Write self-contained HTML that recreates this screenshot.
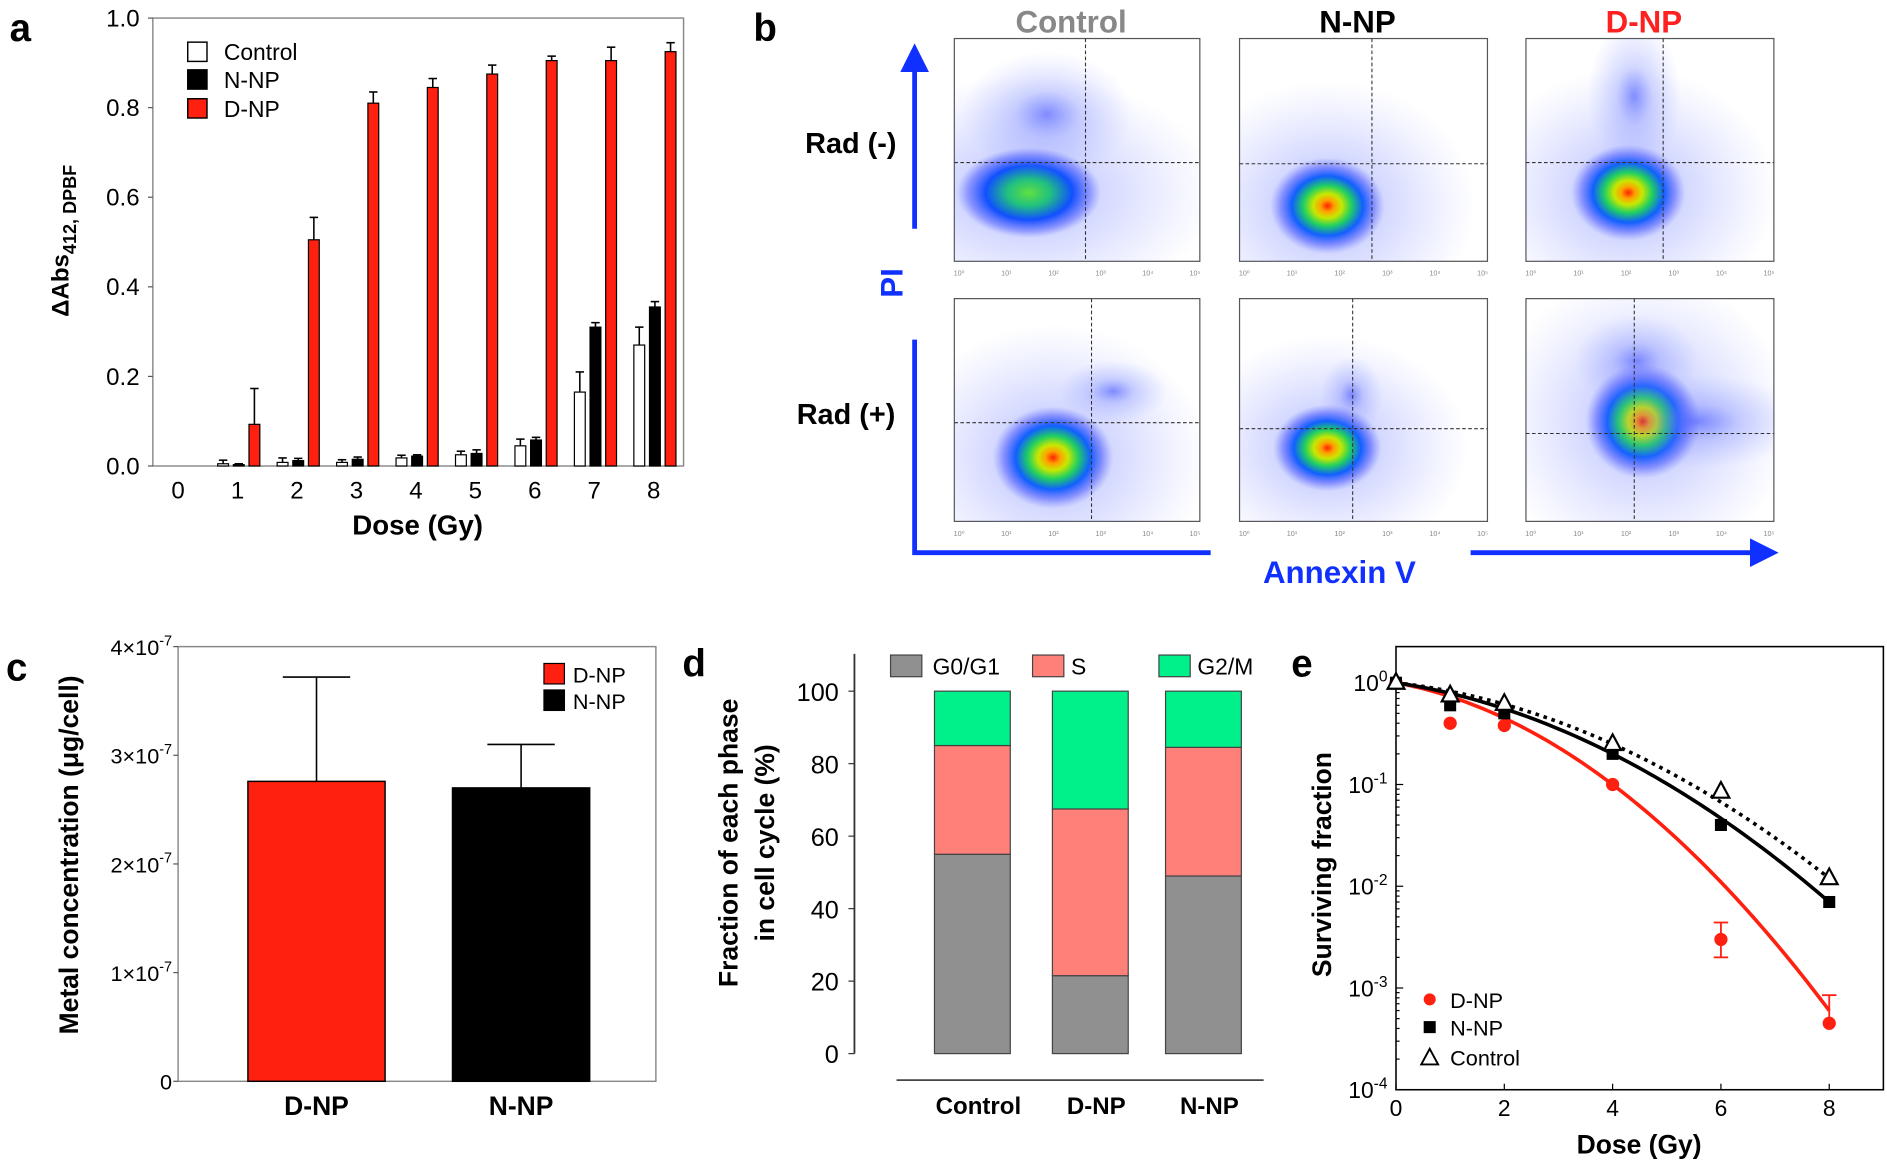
<!DOCTYPE html>
<html><head><meta charset="utf-8"><style>
html,body{margin:0;padding:0;background:#fff}
svg{display:block;font-family:"Liberation Sans",sans-serif}
</style></head><body>
<svg id="fig" width="1887" height="1168" viewBox="0 0 1568 970" preserveAspectRatio="none" xmlns="http://www.w3.org/2000/svg">
<defs>
<radialGradient id="blob" cx="0.5" cy="0.5" r="0.5">
<stop offset="0" stop-color="#ff2000"/><stop offset="0.12" stop-color="#ffa000"/><stop offset="0.25" stop-color="#c8e800"/>
<stop offset="0.42" stop-color="#20d060"/><stop offset="0.62" stop-color="#1060ff"/><stop offset="0.82" stop-color="#4050ff" stop-opacity="0.5"/><stop offset="1" stop-color="#6070ff" stop-opacity="0"/>
</radialGradient>
<radialGradient id="blobg" cx="0.5" cy="0.5" r="0.5">
<stop offset="0" stop-color="#60e040"/><stop offset="0.3" stop-color="#20c080"/>
<stop offset="0.6" stop-color="#1050ff"/><stop offset="0.85" stop-color="#4050ff" stop-opacity="0.45"/><stop offset="1" stop-color="#6070ff" stop-opacity="0"/>
</radialGradient>
<radialGradient id="haze" cx="0.5" cy="0.5" r="0.5">
<stop offset="0" stop-color="#5060ff" stop-opacity="0.45"/><stop offset="1" stop-color="#8090ff" stop-opacity="0"/>
</radialGradient>
<marker id="ah" markerWidth="6" markerHeight="6" refX="3" refY="3" orient="auto"><path d="M0,0 L6,3 L0,6 z" fill="#1030ff"/></marker>
</defs>
<g id="pa"></g>
<g id="pb"></g>
<g id="pc"></g>
<g id="pd"></g>
<g id="pe"></g>
</svg>
<script>
// ---------- Panel a data ----------
const aDoses = [0,1,2,3,4,5,6,7,8];
const aControl = [0,0.005,0.008,0.008,0.018,0.025,0.045,0.165,0.27];
const aControlErr = [0,0.008,0.01,0.006,0.006,0.008,0.015,0.045,0.04];
const aNNP = [0,0.003,0.012,0.015,0.022,0.028,0.058,0.31,0.355];
const aNNPErr = [0,0.002,0.005,0.005,0.003,0.008,0.006,0.01,0.012];
const aDNP = [0,0.093,0.505,0.81,0.845,0.875,0.905,0.905,0.925];
const aDNPErr = [0,0.08,0.05,0.025,0.02,0.02,0.01,0.03,0.02];
const aYTicks = ["0.0","0.2","0.4","0.6","0.8","1.0"];
// ---------- Panel c data ----------
const cCats = ["D-NP","N-NP"];
const cVals = [2.76,2.70];   // x1e-7
const cErr = [0.96,0.40];
const cYTicks = [0,1,2,3,4];
// ---------- Panel d data ----------
const dCats = ["Control","D-NP","N-NP"];
const dG0G1 = [55,21.5,49];
const dS = [30,46,35.5];
const dG2M = [15,32.5,15.5];
const dYTicks = [0,20,40,60,80,100];
// ---------- Panel e data ----------
const eDose = [0,1,2,4,6,8];
const eDNP = [1,0.4,0.38,0.1,0.003,0.00045];
const eDNPErrLo = [0,0,0,0,0.002,0];
const eDNPErrHi = [0,0,0,0,0.0044,0.00085];
const eNNP = [1,0.6,0.5,0.2,0.04,0.007];
const eControl = [1,0.75,0.62,0.25,0.085,0.012];
const eFitAlpha = [0.225,0.185,0.141]; // D-NP, N-NP, Control
const eFitBeta = [0.0878,0.0544,0.0515];
const eXTicks = [0,2,4,6,8];
const eYTicks = [0,-1,-2,-3,-4];

const NS="http://www.w3.org/2000/svg";
function mk(parent,tag,attrs,text){const e=document.createElementNS(NS,tag);for(const k in attrs)e.setAttribute(k,attrs[k]);if(text!==undefined)e.textContent=text;parent.appendChild(e);return e;}

// ================= Panel a =================
(function(){
const g=document.getElementById('pa');
const L=127,T=15,R=568,B=387;
const xs=d=>148+d*49.4, ys=v=>B-(B-T)*v;
let t=mk(g,'text',{x:8,y:34,'font-size':32,'font-weight':'bold'},'a');

let fr=mk(g,'rect',{x:L,y:T,width:R-L,height:B-T,fill:'none',stroke:'#888','stroke-width':1.2});

aYTicks.forEach((lb,i)=>{const y=ys(i*0.2);
 let tx=mk(g,'text',{x:116,y:y+7,'font-size':20,'text-anchor':'end'},lb);
 
 mk(g,'line',{x1:L-4,x2:L,y1:y,y2:y,stroke:'#555'});});
aDoses.forEach((d,i)=>{
 let tx=mk(g,'text',{x:xs(d),y:B+27,'font-size':20,'text-anchor':'middle'},String(d));
 
 const series=[[aControl,aControlErr,'#fff',-12],[aNNP,aNNPErr,'#000',1],[aDNP,aDNPErr,'#ff2010',14]];
 series.forEach(([v,e,c,off])=>{if(v[i]<=0)return;const cx=xs(d)+off;
  const yt=ys(v[i]), ye=ys(v[i]+e[i]);
  mk(g,'line',{x1:cx,x2:cx,y1:yt,y2:ye,stroke:'#000','stroke-width':1.3});
  mk(g,'line',{x1:cx-3.5,x2:cx+3.5,y1:ye,y2:ye,stroke:'#000','stroke-width':1.3});
  let r=mk(g,'rect',{x:cx-4.5,y:yt,width:9,height:B-yt,fill:c,stroke:'#000','stroke-width':1});
  });
});
[['Control','#fff',43],['N-NP','#000',66],['D-NP','#ff2010',90]].forEach(([n,c,y])=>{
 let r=mk(g,'rect',{x:156,y:y-8,width:16,height:16,fill:c,stroke:'#000','stroke-width':1.2});
 
 let tx=mk(g,'text',{x:186,y:y+7,'font-size':19},n);
 });
let yt=mk(g,'text',{transform:'translate(57,200) rotate(-90)','font-size':20,'font-weight':'bold','text-anchor':'middle'});

mk(yt,'tspan',{},'ΔAbs');mk(yt,'tspan',{'font-size':15,dy:6},'412, DPBF');
let xt=mk(g,'text',{x:347,y:444,'font-size':23,'font-weight':'bold','text-anchor':'middle'},'Dose (Gy)');

})();

// ================= Panel b =================
(function(){
const g=document.getElementById('pb');
let t=mk(g,'text',{x:626,y:34,'font-size':32,'font-weight':'bold'},'b');

const cols=[[793,997,'Control','#888'],[1030,1236,'N-NP','#000'],[1268,1474,'D-NP','#ff2020']];
cols.forEach(([x0,x1,n,c])=>{let tx=mk(g,'text',{x:(x0+x1)/2-5,y:27,'font-size':26,'font-weight':'bold','text-anchor':'middle',fill:c},n);
 });
const plots=[
 [793,997,32,217,902,135,[[855,160,120,75],[870,95,55,40]],'blobg'],
 [1030,1236,32,217,1140,136,[[1103,171,95,80]],'blob'],
 [1268,1474,32,217,1382,135,[[1353,160,95,80],[1358,80,30,50]],'blob'],
 [793,997,248,433,907,351,[[875,380,100,85],[925,325,35,20]],'blob'],
 [1030,1236,248,433,1124,356,[[1103,372,90,72],[1123,328,20,25]],'blob'],
 [1268,1474,248,433,1358,360,[[1365,350,95,95],[1410,350,70,30],[1360,300,40,30]],'blob']];
plots.forEach(([x0,x1,y0,y1,vx,hy,blobs,gid],k)=>{
 const pg=mk(g,'g',{});
 mk(pg,'rect',{x:x0,y:y0,width:x1-x0,height:y1-y0,fill:'#fff',stroke:'#555','stroke-width':1});
 const cp='cp'+k;const cl=mk(pg,'clipPath',{id:cp});mk(cl,'rect',{x:x0,y:y0,width:x1-x0,height:y1-y0});
 const bg=mk(pg,'g',{'clip-path':'url(#'+cp+')'});
 blobs.forEach(([cx,cy,rx,ry],j)=>{
  mk(bg,'ellipse',{cx:cx,cy:cy,rx:rx*1.3,ry:ry*1.3,fill:'url(#haze)'});
  mk(bg,'ellipse',{cx:cx,cy:cy,rx:rx/2,ry:ry/2,fill:j===0?'url(#'+gid+')':'url(#haze)'});});
 mk(pg,'line',{x1:vx,x2:vx,y1:y0,y2:y1,stroke:'#333','stroke-dasharray':'3,2','stroke-width':0.9});
 mk(pg,'line',{x1:x0,x2:x1,y1:hy,y2:hy,stroke:'#333','stroke-dasharray':'3,2','stroke-width':0.9});
 for(let i=0;i<6;i++){const x=x0+4+i*(x1-x0-8)/5;mk(pg,'text',{x:x,y:y1+12,'font-size':6,fill:'#888','text-anchor':'middle'},'10'+String.fromCharCode([8304,185,178,179,8308,8309][i]));}
});
[[707,118,'Rad (-)'],[703,343,'Rad (+)']].forEach(([x,y,n])=>{let tx=mk(g,'text',{x:x,y:y+9,'font-size':24,'font-weight':'bold','text-anchor':'middle'},n);
 });
mk(g,'line',{x1:760,x2:760,y1:190,y2:48,stroke:'#1030ff','stroke-width':4,'marker-end':'url(#ah)'});
mk(g,'polyline',{points:'760,282 760,459 1006,459',fill:'none',stroke:'#1030ff','stroke-width':4});
mk(g,'line',{x1:1222,x2:1466,y1:459,y2:459,stroke:'#1030ff','stroke-width':4,'marker-end':'url(#ah)'});
let pi=mk(g,'text',{transform:'translate(750,235) rotate(-90)','font-size':26,'font-weight':'bold',fill:'#1030ff','text-anchor':'middle'},'PI');

let an=mk(g,'text',{x:1113,y:484,'font-size':26,'font-weight':'bold',fill:'#1030ff','text-anchor':'middle'},'Annexin V');

})();

// ================= Panel c =================
(function(){
const g=document.getElementById('pc');
const L=148,T=537,R=545,B=898;
const ys=v=>B-(B-T)*v/4;const xc=[263,433];
let t=mk(g,'text',{x:5,y:565,'font-size':32,'font-weight':'bold'},'c');

mk(g,'rect',{x:L,y:T,width:R-L,height:B-T,fill:'none',stroke:'#888','stroke-width':1.2});
cYTicks.forEach(v=>{const y=ys(v);mk(g,'line',{x1:L-4,x2:L,y1:y,y2:y,stroke:'#555'});
 let tx=mk(g,'text',{x:143,y:y+7,'font-size':18,'text-anchor':'end'});
 
 if(v===0)tx.textContent='0';else{mk(tx,'tspan',{},v+'×10');mk(tx,'tspan',{'font-size':12,dy:-8},'-7');}});
cVals.forEach((v,i)=>{const y=ys(v),ye=ys(v+cErr[i]);
 mk(g,'line',{x1:xc[i],x2:xc[i],y1:y,y2:ye,stroke:'#000','stroke-width':1.3});
 mk(g,'line',{x1:xc[i]-28,x2:xc[i]+28,y1:ye,y2:ye,stroke:'#000','stroke-width':1.3});
 let r=mk(g,'rect',{x:xc[i]-57,y:y,width:114,height:B-y,fill:i===0?'#ff2010':'#000',stroke:'#000','stroke-width':1.2});
 
 let tx=mk(g,'text',{x:xc[i],y:926,'font-size':22,'font-weight':'bold','text-anchor':'middle'},cCats[i]);
 });
[['D-NP','#ff2010',560],['N-NP','#000',582]].forEach(([n,c,y])=>{
 let r=mk(g,'rect',{x:452,y:y-9,width:17,height:17,fill:c,stroke:'#000'});
 
 let tx=mk(g,'text',{x:476,y:y+7,'font-size':18},n);
 });
let yt=mk(g,'text',{transform:'translate(65,710) rotate(-90)','font-size':22,'font-weight':'bold','text-anchor':'middle'},'Metal concentration  (μg/cell)');

})();

// ================= Panel d =================
(function(){
const g=document.getElementById('pd');
const B=875,ys=v=>B-3.01*v;const xc=[808,906,1000],w=63;
let t=mk(g,'text',{x:567,y:562,'font-size':32,'font-weight':'bold'},'d');

mk(g,'line',{x1:710,x2:710,y1:543,y2:B,stroke:'#333','stroke-width':1.5});
dYTicks.forEach(v=>{const y=ys(v);mk(g,'line',{x1:705,x2:710,y1:y,y2:y,stroke:'#333'});
 let tx=mk(g,'text',{x:697,y:y+8,'font-size':21,'text-anchor':'end'},String(v));
 });
dCats.forEach((c,i)=>{let base=0;
 [[dG0G1,'#909090'],[dS,'#ff8078'],[dG2M,'#00f08a']].forEach(([arr,col])=>{
  const y0=ys(base),y1=ys(base+arr[i]);
  let r=mk(g,'rect',{x:xc[i]-w/2,y:y1,width:w,height:y0-y1,fill:col,stroke:'#444','stroke-width':1});
  base+=arr[i];});
 let tx=mk(g,'text',{x:xc[i]+5,y:925,'font-size':20,'font-weight':'bold','text-anchor':'middle'},c);
 });
mk(g,'line',{x1:745,x2:1050,y1:897,y2:897,stroke:'#444','stroke-width':1.5});
[['G0/G1','#909090',740,775],['S','#ff8078',858,890],['G2/M','#00f08a',963,995]].forEach(([n,c,x,tx0])=>{
 let r=mk(g,'rect',{x:x,y:544,width:26,height:18,fill:c,stroke:'#444'});
 
 let tx=mk(g,'text',{x:tx0,y:560,'font-size':19},n);
 });
let yt=mk(g,'text',{transform:'translate(613,700) rotate(-90)','font-size':22,'font-weight':'bold','text-anchor':'middle'},'Fraction of each phase');

let yt2=mk(g,'text',{transform:'translate(643,700) rotate(-90)','font-size':22,'font-weight':'bold','text-anchor':'middle'},'in cell cycle (%)');

})();

// ================= Panel e =================
(function(){
const g=document.getElementById('pe');
const L=1160,T=537,R=1565,B=905;
const xs=d=>L+d*45, ys=v=>567-84.5*Math.log10(v);
let t=mk(g,'text',{x:1073,y:562,'font-size':32,'font-weight':'bold'},'e');

mk(g,'rect',{x:L,y:T,width:R-L,height:B-T,fill:'none',stroke:'#000','stroke-width':1.3});
eYTicks.forEach(p=>{const y=ys(Math.pow(10,p));mk(g,'line',{x1:L,x2:L+6,y1:y,y2:y,stroke:'#000'});
 if(p>-4)for(let m=2;m<10;m++){const ym=ys(m*Math.pow(10,p-1));mk(g,'line',{x1:L,x2:L+3,y1:ym,y2:ym,stroke:'#000'});}
 let tx=mk(g,'text',{x:1153,y:y+7,'font-size':19,'text-anchor':'end'});
 
 mk(tx,'tspan',{},'10');mk(tx,'tspan',{'font-size':13,dy:-8},String(p));});
eXTicks.forEach(d=>{const x=xs(d);mk(g,'line',{x1:x,x2:x,y1:B,y2:B-5,stroke:'#000'});
 let tx=mk(g,'text',{x:x,y:927,'font-size':19,'text-anchor':'middle'},String(d));
 });
const colors=['#ff2010','#000','#000'],dash=['','','3,4'];
const names=['fit-d-np','fit-n-np','fit-control'];
[0,1,2].forEach(k=>{let pts=[];for(let s=0;s<=80;s++){const d=s/10;pts.push(xs(d)+','+ys(Math.exp(-eFitAlpha[k]*d-eFitBeta[k]*d*d)));}
 let pl=mk(g,'polyline',{points:pts.join(' '),fill:'none',stroke:colors[k],'stroke-width':3,'stroke-dasharray':dash[k]});
 });
eDose.forEach((d,i)=>{const x=xs(d);
 if(eDNPErrHi[i]>0){const y0=ys(eDNPErrLo[i]||eDNP[i]),y1=ys(eDNPErrHi[i]);
  mk(g,'line',{x1:x,x2:x,y1:y0,y2:y1,stroke:'#ff2010','stroke-width':1.5});
  mk(g,'line',{x1:x-6,x2:x+6,y1:y1,y2:y1,stroke:'#ff2010','stroke-width':1.5});
  if(eDNPErrLo[i]>0)mk(g,'line',{x1:x-6,x2:x+6,y1:y0,y2:y0,stroke:'#ff2010','stroke-width':1.5});}
 let c=mk(g,'circle',{cx:x,cy:ys(eDNP[i]),r:5.5,fill:'#ff2010'});
 
 let s=mk(g,'rect',{x:x-5,y:ys(eNNP[i])-5,width:10,height:10,fill:'#000'});
 
 const yc=ys(eControl[i]);
 let tr=mk(g,'polygon',{points:`${x},${yc-8} ${x-7},${yc+5} ${x+7},${yc+5}`,fill:'#fff',stroke:'#000','stroke-width':1.8});
 });
const lg=[[830,'D-NP'],[853,'N-NP'],[878,'Control']];
mk(g,'circle',{cx:1188,cy:830,r:5,fill:'#ff2010'});
mk(g,'rect',{x:1183,y:848,width:10,height:10,fill:'#000'});
mk(g,'polygon',{points:'1188,871 1181,884 1195,884',fill:'#fff',stroke:'#000','stroke-width':1.6});
lg.forEach(([y,n])=>{let tx=mk(g,'text',{x:1205,y:y+7,'font-size':18},n);
 });
let yt=mk(g,'text',{transform:'translate(1106,718) rotate(-90)','font-size':22,'font-weight':'bold','text-anchor':'middle'},'Surviving fraction');

let xt=mk(g,'text',{x:1362,y:958,'font-size':22,'font-weight':'bold','text-anchor':'middle'},'Dose (Gy)');

})();
</script>
</body></html>
